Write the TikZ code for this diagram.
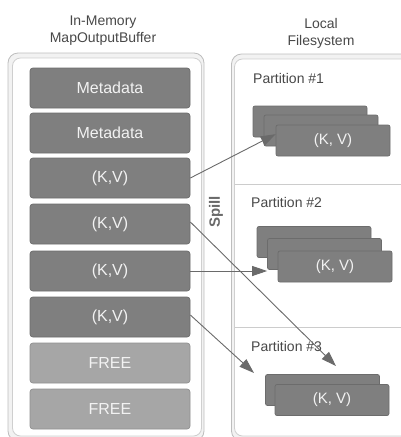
\documentclass[tikz,border=0pt]{standalone}
\usepackage{fontspec}
\setmainfont{Liberation Sans}
\usetikzlibrary{arrows.meta,calc}

\definecolor{frameline}{HTML}{BDBDBD}
\definecolor{framefill}{HTML}{F2F2F2}
\definecolor{innerline}{HTML}{CFCFCF}
\definecolor{darkfill}{HTML}{7F7F7F}
\definecolor{darkline}{HTML}{6C6C6C}
\definecolor{freefill}{HTML}{A6A6A6}
\definecolor{freeline}{HTML}{909090}
\definecolor{boxtext}{HTML}{F2F2F2}
\definecolor{labeltext}{HTML}{484848}
\definecolor{arrowcol}{HTML}{6A6A6A}
\definecolor{divider}{HTML}{CCCCCC}

\tikzset{
  outerframe/.style={draw=frameline, fill=framefill, line width=0.8pt, rounded corners=10pt},
  innerframe/.style={draw=innerline, fill=white, line width=0.8pt, rounded corners=8pt},
  buf/.style={draw=darkline, fill=darkfill, rounded corners=3pt, line width=0.7pt,
    minimum width=160pt, minimum height=40pt, inner sep=0pt,
    text=boxtext, font=\fontsize{16}{18}\selectfont},
  freebuf/.style={buf, draw=freeline, fill=freefill},
  rec/.style={draw=darkline, fill=darkfill, rounded corners=2pt, line width=0.7pt,
    minimum width=114pt, minimum height=31pt, inner sep=0pt,
    text=boxtext, font=\fontsize{15}{17}\selectfont},
  title/.style={text=labeltext, align=center, font=\fontsize{14}{17}\selectfont},
  partlabel/.style={text=labeltext, anchor=west, inner sep=0pt, font=\fontsize{14}{16}\selectfont},
  spillarrow/.style={draw=arrowcol, line width=0.9pt, -{Triangle[length=15pt, width=10pt]}},
}

\begin{document}
\begin{tikzpicture}[x=1pt, y=-1pt]
  \useasboundingbox (0,0) rectangle (401,437);

  % titles
  \node[title] (ttlbuf) at (103,31) {In-Memory\\MapOutputBuffer};
  \node[title] (ttlfs) at (321,33) {Local\\Filesystem};

  % containers
  \draw[outerframe] (8,53) rectangle (204,441);
  \draw[innerframe] (12.5,58) rectangle (201.5,436);
  \draw[outerframe] (231.5,54) rectangle (412,441);
  \draw[innerframe] (234.5,59) rectangle (412,436);

  % partition dividers
  \draw[divider, line width=0.8pt] (235,184) -- (401,184);
  \draw[divider, line width=0.8pt] (235,327) -- (401,327);

  % buffer slots
  \node[buf] (meta1) at (110,88) {Metadata};
  \node[buf] (meta2) at (110,133) {Metadata};
  \node[buf] (kv1) at (110,178) {(K,V)};
  \node[buf] (kv2) at (110,224) {(K,V)};
  \node[buf] (kv3) at (110,271) {(K,V)};
  \node[buf] (kv4) at (110,317) {(K,V)};
  \node[freebuf] (free1) at (110,363) {FREE};
  \node[freebuf] (free2) at (110,409) {FREE};

  % spill label
  \node[rotate=90, text=arrowcol, font=\bfseries\fontsize{15}{17}\selectfont] (spill) at (216,212) {Spill};

  % partition labels
  \node[partlabel] (lab1) at (253,78) {Partition \#1};
  \node[partlabel] (lab2) at (251,202) {Partition \#2};
  \node[partlabel] (lab3) at (251,346) {Partition \#3};

  % partition 1 records
  \node[rec] (p1back) at (310,121.5) {};
  \node[rec] (p1mid) at (321,130.5) {};
  \node[rec] (p1front) at (333,140.5) {(K, V)};

  % partition 2 records
  \node[rec] (p2back) at (314,242) {};
  \node[rec] (p2mid) at (324.5,254) {};
  \node[rec] (p2front) at (335,266.5) {(K, V)};

  % partition 3 records
  \node[rec] (p3back) at (322.5,390) {};
  \node[rec] (p3front) at (332,400) {(K, V)};

  % spill targets
  \coordinate (t2) at (336,366);
  \coordinate (t4) at (254,373);

  % spill arrows
  \draw[spillarrow] (kv1.east) -- ($(p1front.north west)!0.3!(p1front.south west)$);
  \draw[spillarrow] ([yshift=2pt]kv2.east) -- (t2);
  \draw[spillarrow] (kv3.east) -- (kv3.east -| p2mid.west);
  \draw[spillarrow] ([yshift=2pt]kv4.east) -- (t4);
\end{tikzpicture}
\end{document}
